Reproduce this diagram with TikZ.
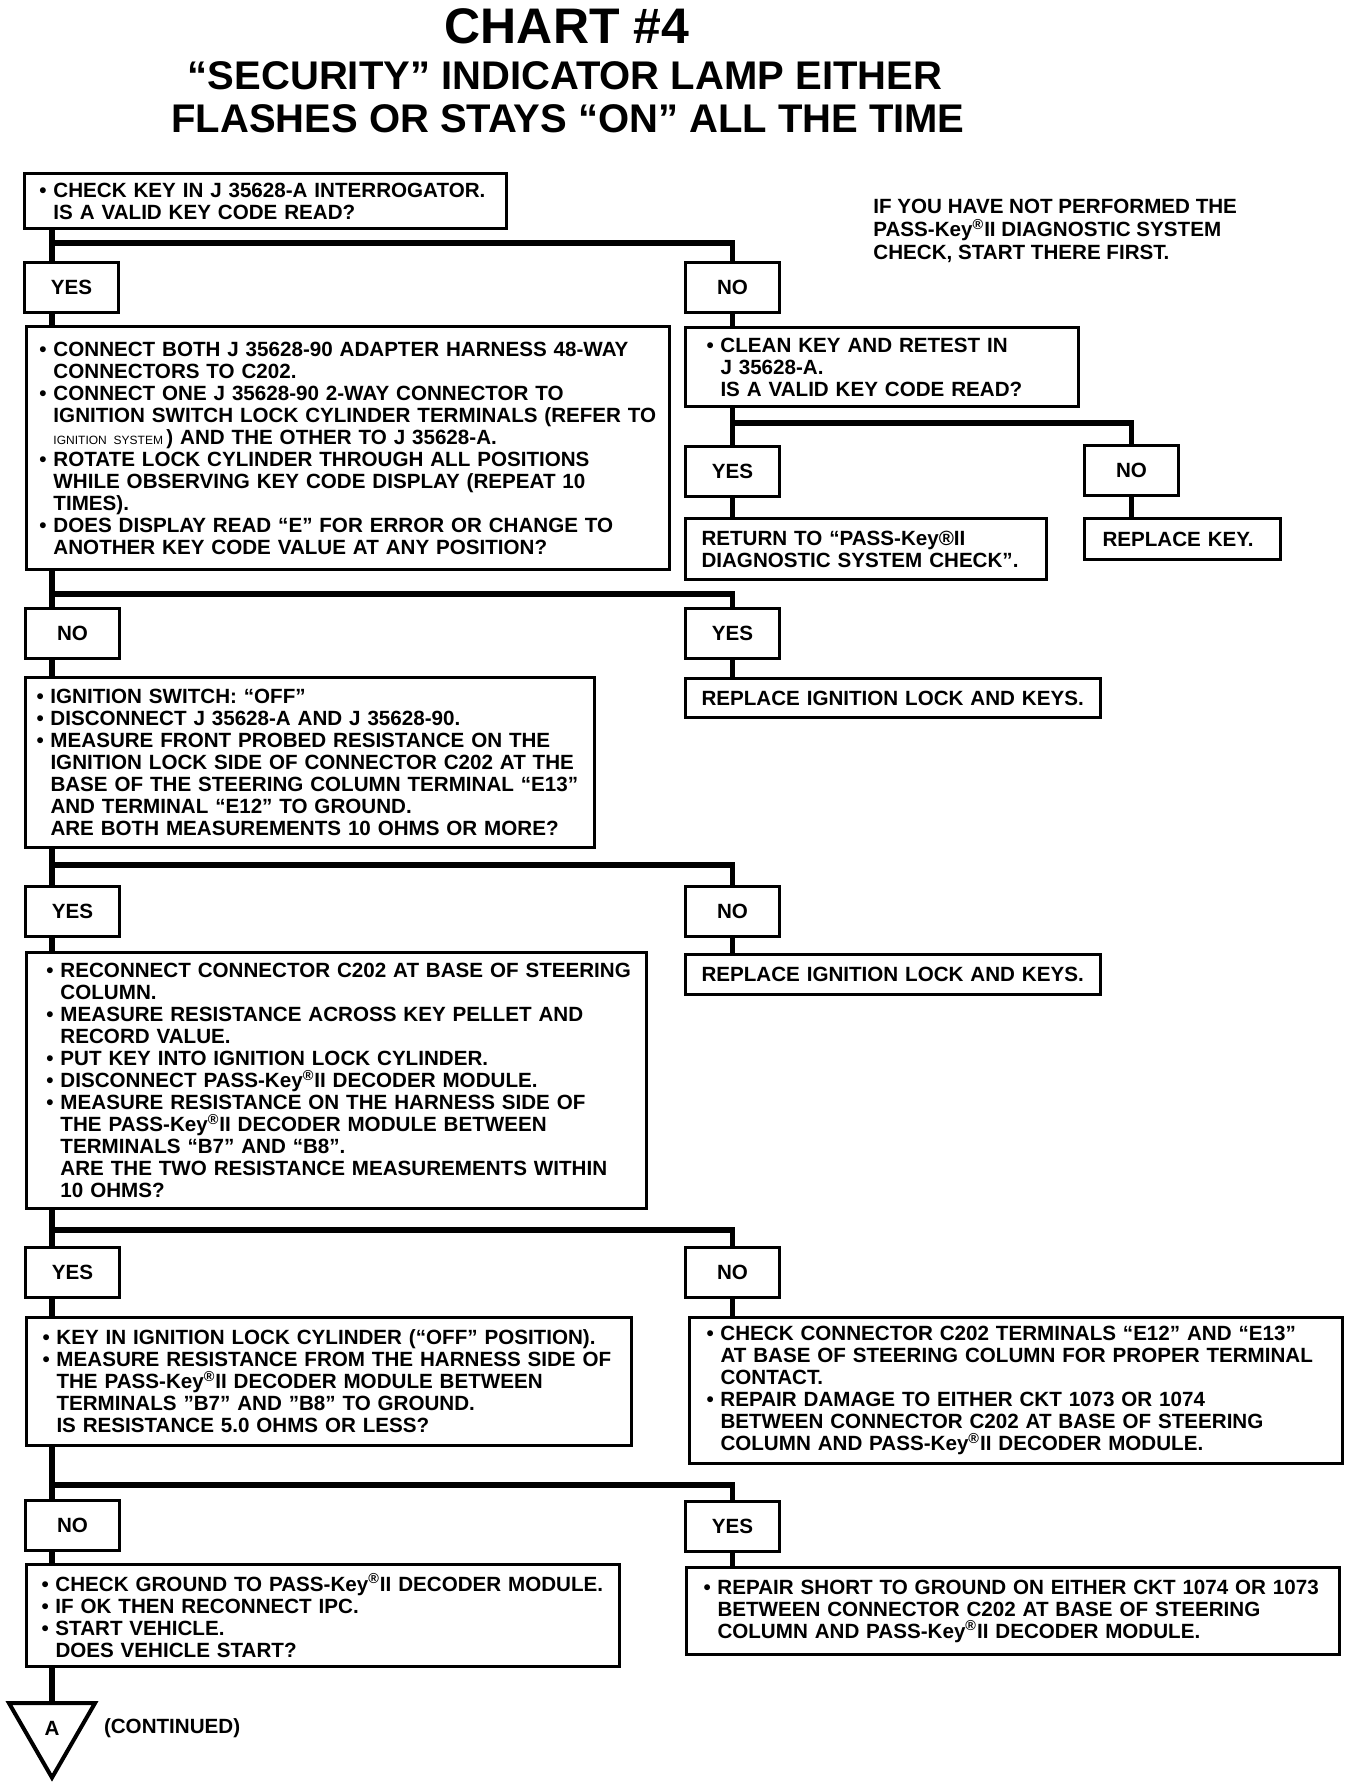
\documentclass[tikz,border=0pt]{standalone}
\usepackage{fontspec}
\setmainfont{Liberation Sans}
\usetikzlibrary{positioning,shapes.geometric}

\newcommand{\bul}{\makebox[7pt][l]{\textbullet}}
\newcommand{\ind}{\hspace*{7pt}}
\newcommand{\pk}{PASS-Key\textsuperscript{\textregistered}II}

\tikzset{
  every node/.style={font=\bfseries\fontsize{10.3}{11}\selectfont},
  stepbox/.style={draw, line width=1.5pt, anchor=north west, align=left, inner ysep=2pt,
    execute at begin node={\rightskip=0pt plus 1fil minus 100pt}},
  answer/.style={draw, line width=1.5pt, anchor=north west, minimum width=47pt, minimum height=25pt, inner sep=0pt},
  conn/.style={line width=2.6pt},
  heading/.style={anchor=base, font=\bfseries\fontsize{20}{24}\selectfont},
}

\begin{document}
\begin{tikzpicture}[x=0.5pt,y=-0.5pt]
\useasboundingbox (0,0) rectangle (1360,1784);

% title
\node[heading, font=\bfseries\fontsize{25}{30}\selectfont] (title) at (567,43) {CHART \#4};
\node[heading] (subA) at (565,89) {“SECURITY” INDICATOR LAMP EITHER};
\node[heading] (subB) at (568,132) {FLASHES OR STAYS “ON” ALL THE TIME};
\node[anchor=north west, align=left, inner sep=0pt, font=\bfseries\fontsize{10.3}{11.5}\selectfont] (note) at (873,199)
  {IF YOU HAVE NOT PERFORMED THE\\ \pk\ DIAGNOSTIC SYSTEM\\ CHECK, START THERE FIRST.};

\coordinate (trunk) at (52,0);

% left column
\node[stepbox, text width=226pt, minimum height=27.5pt, inner xsep=7.5pt] (chk) at (23,172)
  {\bul CHECK KEY IN J 35628-A INTERROGATOR.\\ \ind IS A VALID KEY CODE READ?};
\node[answer] (yesA) at (23,261) {YES};
\node[stepbox, text width=308.5pt, minimum height=121.5pt, inner xsep=6.5pt] (conn) at (25,325)
  {\bul CONNECT BOTH J 35628-90 ADAPTER HARNESS 48-WAY\\
   \ind CONNECTORS TO C202.\\
   \bul CONNECT ONE J 35628-90 2-WAY CONNECTOR TO\\
   \ind IGNITION SWITCH LOCK CYLINDER TERMINALS (REFER TO\\
   \ind{\mdseries\fontsize{6}{6}\selectfont IGNITION SYSTEM}\,) AND THE OTHER TO J 35628-A.\\
   \bul ROTATE LOCK CYLINDER THROUGH ALL POSITIONS\\
   \ind WHILE OBSERVING KEY CODE DISPLAY (REPEAT 10\\
   \ind TIMES).\\
   \bul DOES DISPLAY READ “E” FOR ERROR OR CHANGE TO\\
   \ind ANOTHER KEY CODE VALUE AT ANY POSITION?};
\node[answer] (noC) at (24,607) {NO};
\node[stepbox, text width=273.5pt, minimum height=85pt, inner xsep=5.5pt] (ign) at (24,676)
  {\bul IGNITION SWITCH: “OFF”\\
   \bul DISCONNECT J 35628-A AND J 35628-90.\\
   \bul MEASURE FRONT PROBED RESISTANCE ON THE\\
   \ind IGNITION LOCK SIDE OF CONNECTOR C202 AT THE\\
   \ind BASE OF THE STEERING COLUMN TERMINAL “E13”\\
   \ind AND TERMINAL “E12” TO GROUND.\\
   \ind ARE BOTH MEASUREMENTS 10 OHMS OR MORE?};
\node[answer] (yesD) at (24,885) {YES};
\node[stepbox, text width=290pt, minimum height=128pt, inner xsep=10pt] (recon) at (25,951)
  {\bul RECONNECT CONNECTOR C202 AT BASE OF STEERING\\
   \ind COLUMN.\\
   \bul MEASURE RESISTANCE ACROSS KEY PELLET AND\\
   \ind RECORD VALUE.\\
   \bul PUT KEY INTO IGNITION LOCK CYLINDER.\\
   \bul DISCONNECT \pk\ DECODER MODULE.\\
   \bul MEASURE RESISTANCE ON THE HARNESS SIDE OF\\
   \ind THE \pk\ DECODER MODULE BETWEEN\\
   \ind TERMINALS “B7” AND “B8”.\\
   \ind ARE THE TWO RESISTANCE MEASUREMENTS WITHIN\\
   \ind 10 OHMS?};
\node[answer] (yesE) at (24,1246) {YES};
\node[stepbox, text width=286.5pt, minimum height=64pt, inner xsep=8pt] (keyin) at (25,1316)
  {\bul KEY IN IGNITION LOCK CYLINDER (“OFF” POSITION).\\
   \bul MEASURE RESISTANCE FROM THE HARNESS SIDE OF\\
   \ind THE \pk\ DECODER MODULE BETWEEN\\
   \ind TERMINALS "B7" AND "B8" TO GROUND.\\
   \ind IS RESISTANCE 5.0 OHMS OR LESS?};
\node[answer] (noF) at (24,1499) {NO};
\node[stepbox, text width=281.5pt, minimum height=51pt, inner xsep=7.5pt] (gnd) at (25,1563)
  {\bul CHECK GROUND TO \pk\ DECODER MODULE.\\
   \bul IF OK THEN RECONNECT IPC.\\
   \bul START VEHICLE.\\
   \ind DOES VEHICLE START?};
\node[regular polygon, regular polygon sides=3, shape border rotate=180, draw, line width=2pt,
  minimum size=49.6pt, inner sep=0pt] (contA) at (52,1728) {A};
\node[right=7pt of contA] (contd) {(CONTINUED)};

% right column
\node[answer] (noA) at (684,261) {NO};
\node[stepbox, text width=175.5pt, minimum height=39.5pt, inner xsep=10.5pt] (clean) at (684,326)
  {\bul CLEAN KEY AND RETEST IN\\ \ind J 35628-A.\\ \ind IS A VALID KEY CODE READ?};
\node[answer] (yesB) at (684,445) {YES};
\node[answer] (noB) at (1083,444) {NO};
\node[stepbox, text width=164.5pt, minimum height=30.5pt, inner xsep=8pt] (ret) at (684,517)
  {RETURN TO “PASS-Key\textregistered{}II\\ DIAGNOSTIC SYSTEM CHECK”.};
\node[stepbox, text width=80pt, minimum height=20.5pt, inner xsep=9pt] (rkey) at (1083,517) {REPLACE KEY.};
\node[answer] (yesC) at (684,607) {YES};
\node[stepbox, text width=191.5pt, minimum height=19.5pt, inner xsep=8pt] (rlockA) at (684,677)
  {REPLACE IGNITION LOCK AND KEYS.};
\node[answer] (noD) at (684,885) {NO};
\node[stepbox, text width=191.5pt, minimum height=20pt, inner xsep=8pt] (rlockB) at (684,953)
  {REPLACE IGNITION LOCK AND KEYS.};
\node[answer] (noE) at (684,1246) {NO};
\node[stepbox, text width=309.5pt, minimum height=73pt, inner xsep=8.5pt] (chkc) at (688,1316)
  {\bul CHECK CONNECTOR C202 TERMINALS “E12” AND “E13”\\
   \ind AT BASE OF STEERING COLUMN FOR PROPER TERMINAL\\
   \ind CONTACT.\\
   \bul REPAIR DAMAGE TO EITHER CKT 1073 OR 1074\\
   \ind BETWEEN CONNECTOR C202 AT BASE OF STEERING\\
   \ind COLUMN AND \pk\ DECODER MODULE.};
\node[answer] (yesF) at (684,1500) {YES};
\node[stepbox, text width=309.5pt, minimum height=43.5pt, inner xsep=8.5pt] (short) at (685,1566)
  {\bul REPAIR SHORT TO GROUND ON EITHER CKT 1074 OR 1073\\
   \ind BETWEEN CONNECTOR C202 AT BASE OF STEERING\\
   \ind COLUMN AND \pk\ DECODER MODULE.};

% trunk
\foreach \a/\b in {chk/yesA, yesA/conn, conn/noC, noC/ign, ign/yesD, yesD/recon, recon/yesE,
  yesE/keyin, keyin/noF, noF/gnd, gnd/contA}
  \draw[conn] (\a.south -| trunk) -- (\b.north -| trunk);

% branches
\coordinate (sA) at (52,243);
\coordinate (sB) at (731,423);
\coordinate (sC) at (52,594);
\coordinate (sD) at (52,865);
\coordinate (sE) at (52,1230);
\coordinate (sF) at (52,1485);
\draw[conn] (sA) -| (noA.north);
\draw[conn] (sB) -| (noB.north);
\draw[conn] (sC) -| (yesC.north);
\draw[conn] (sD) -| (noD.north);
\draw[conn] (sE) -| (noE.north);
\draw[conn] (sF) -| (yesF.north);

\draw[conn] (noA.south) -- (noA.south |- clean.north);
\draw[conn] (clean.south -| yesB.north) -- (yesB.north);
\foreach \a/\b in {yesB/ret, noB/rkey, yesC/rlockA, noD/rlockB, noE/chkc, yesF/short}
  \draw[conn] (\a.south) -- (\a.south |- \b.north);

\end{tikzpicture}
\end{document}
